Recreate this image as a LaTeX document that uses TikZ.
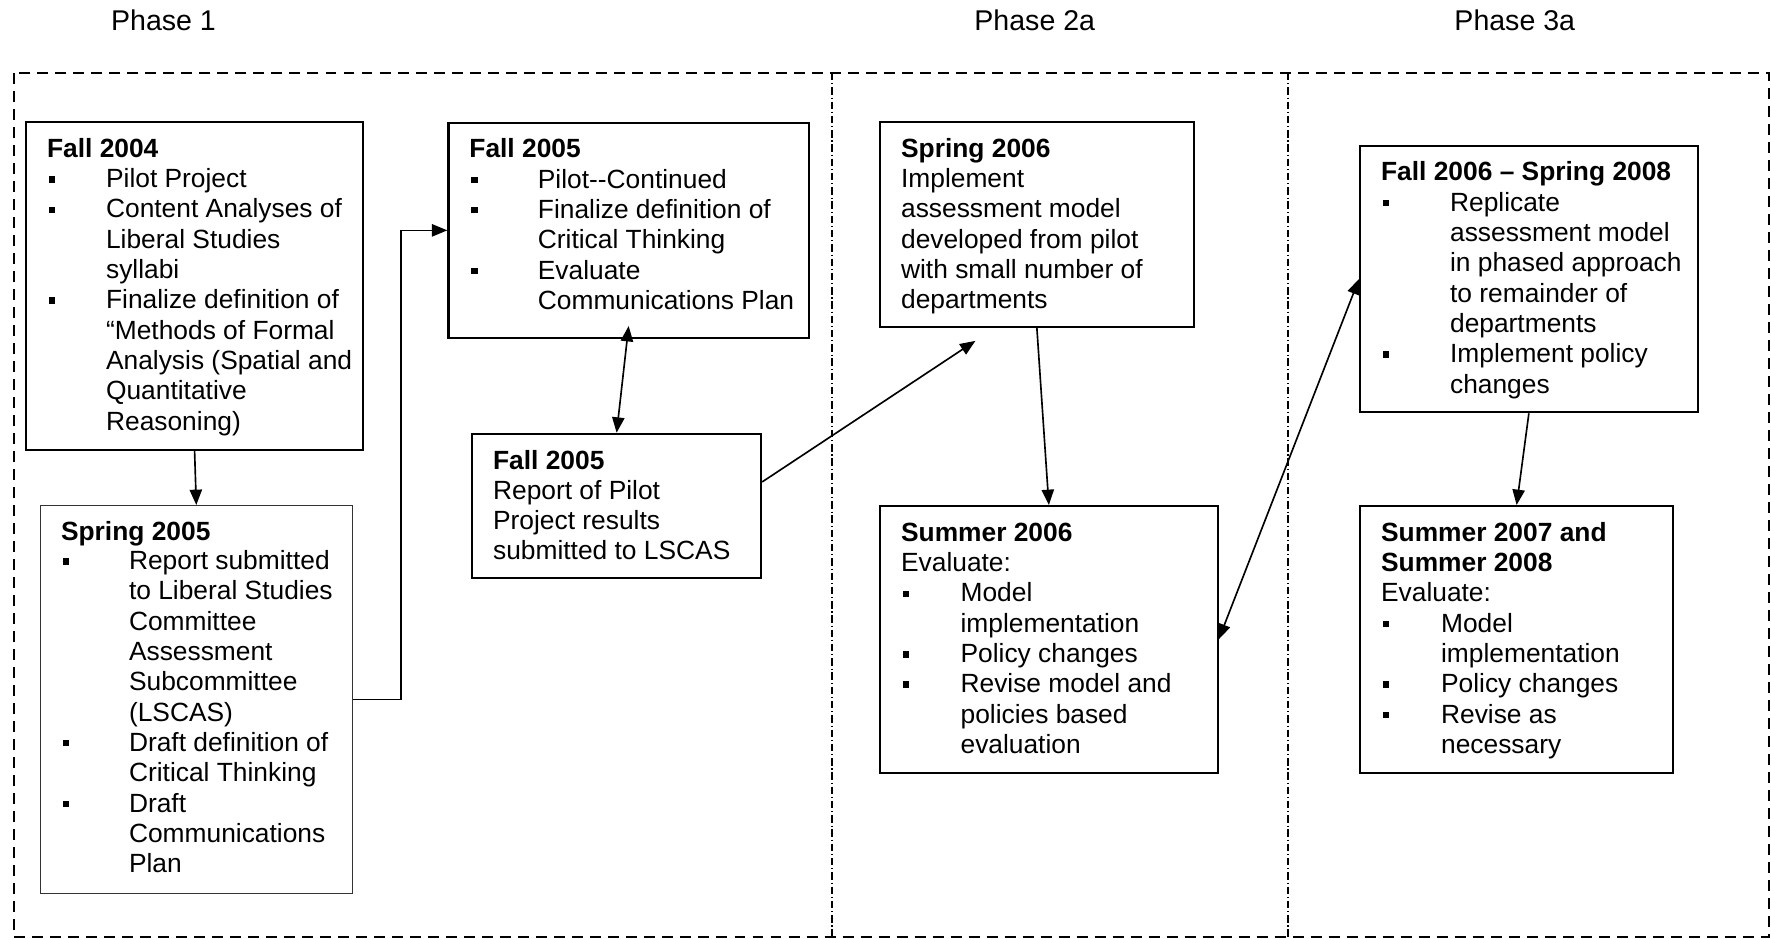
\documentclass[tikz,border=0pt]{standalone}
\usepackage{fontspec}
\setmainfont{Liberation Sans}
\usepackage{tikz}
\usetikzlibrary{arrows.meta}

\newlength{\pxu}\setlength{\pxu}{0.016cm}
\newcommand{\bul}{\rule[2.3pt]{2.9pt}{2.9pt}}
\newcommand{\itm}[1]{\makebox[#1\pxu][l]{\hspace{2\pxu}\bul}}
\newcommand{\cnt}[1]{\hspace*{#1\pxu}}
\newcommand{\boxtext}[3]{\parbox[c][#2\pxu][t]{#1\pxu}{\raggedright
  \setlength{\leftskip}{21\pxu}\fontsize{12}{13.8}\selectfont
  \vspace*{6.4pt}\strut #3}}

\begin{document}
\begin{tikzpicture}[x=0.016cm, y=-0.016cm,
    box/.style={draw, line width=1pt, anchor=north west, inner sep=0pt},
    lbl/.style={anchor=base west, inner sep=0pt, font=\fontsize{13}{15}\selectfont},
    arr/.style={-{Triangle[length=7pt,width=5.6pt]}, line width=0.75pt},
    arrs/.style={{Triangle[length=7pt,width=5.6pt]}-{Triangle[length=7pt,width=5.6pt]}, line width=0.75pt},
    frame/.style={line width=1.2pt, dash pattern=on 5pt off 3.2pt},
    divide/.style={line width=0.6pt, dash pattern=on 3.4pt off 1.3pt on 0.5pt off 1.3pt}]
  \useasboundingbox (0,0) rectangle (1771,939);

  \node[lbl] (ph1) at (110.7,30) {Phase 1};
  \node[lbl] (ph2a) at (974,30) {Phase 2a};
  \node[lbl] (ph3a) at (1454,30) {Phase 3a};

  \draw[frame] (14,73) rectangle (1769,937);
  \draw[divide] (832,73) -- (832,937);
  \draw[divide] (1288,73) -- (1288,937);

  \node[box] (f04) at (25,121) {\boxtext{337}{328}{\textbf{Fall 2004}\\
    \itm{59}Pilot Project\\
    \itm{59}Content Analyses of\\
    \cnt{59}Liberal Studies\\
    \cnt{59}syllabi\\
    \itm{59}Finalize definition of\\
    \cnt{59}“Methods of Formal\\
    \cnt{59}Analysis (Spatial and\\
    \cnt{59}Quantitative\\
    \cnt{59}Reasoning)}};
  \node[box, line width=0.5pt, draw=black!80] (s05) at (39.5,505) {\boxtext{312.5}{388}{\vspace*{-0.7pt}\textbf{Spring 2005}\\
    \itm{68}Report submitted\\
    \cnt{68}to Liberal Studies\\
    \cnt{68}Committee\\
    \cnt{68}Assessment\\
    \cnt{68}Subcommittee\\
    \cnt{68}(LSCAS)\\
    \itm{68}Draft definition of\\
    \cnt{68}Critical Thinking\\
    \itm{68}Draft\\
    \cnt{68}Communications\\
    \cnt{68}Plan}};
  \node[box] (f05) at (447.3,121.5) {\boxtext{360.5}{215.5}{\textbf{Fall 2005}\\
    \itm{68.5}Pilot{-}{-}Continued\\
    \itm{68.5}Finalize definition of\\
    \cnt{68.5}Critical Thinking\\
    \itm{68.5}Evaluate\\
    \cnt{68.5}Communications Plan}};
  \node[box] (rep) at (471,432.7) {\boxtext{289}{144.5}{\textbf{Fall 2005}\\
    Report of Pilot\\
    Project results\\
    submitted to LSCAS}};
  \node[box] (s06) at (879,121) {\boxtext{313.5}{204.5}{\textbf{Spring 2006}\\
    Implement\\
    assessment model\\
    developed from pilot\\
    with small number of\\
    departments}};
  \node[box] (su06) at (879,505) {\boxtext{337.5}{266.5}{\textbf{Summer 2006}\\
    Evaluate:\\
    \itm{59.5}Model\\
    \cnt{59.5}implementation\\
    \itm{59.5}Policy changes\\
    \itm{59.5}Revise model and\\
    \cnt{59.5}policies based\\
    \cnt{59.5}evaluation}};
  \node[box] (f06) at (1359,144.6) {\boxtext{337.5}{266.5}{\textbf{Fall 2006 – Spring 2008}\\
    \itm{69}Replicate\\
    \cnt{69}assessment model\\
    \cnt{69}in phased approach\\
    \cnt{69}to remainder of\\
    \cnt{69}departments\\
    \itm{69}Implement policy\\
    \cnt{69}changes}};
  \node[box] (su07) at (1359,505) {\boxtext{313}{266.5}{\textbf{Summer 2007 and}\\
    \textbf{Summer 2008}\\
    Evaluate:\\
    \itm{60}Model\\
    \cnt{60}implementation\\
    \itm{60}Policy changes\\
    \itm{60}Revise as\\
    \cnt{60}necessary}};

  \coordinate (f05tip) at ([yshift=6pt]f05.south);
  \coordinate (s06in) at ([xshift=-28pt,yshift=-6pt]s06.south);

  \draw[arr] (f04.south) -- (s05.north);
  \draw[arr] (s05.east) -- ++(48,0) |- (f05.west);
  \draw[arrs] (f05tip) -- (rep.north);
  \draw[arr] ([yshift=11pt]rep.east) -- (s06in);
  \draw[arr] (s06.south) -- (su06.north);
  \draw[arrs] (su06.east) -- (f06.west);
  \draw[arr] (f06.south) -- (su07.north);
\end{tikzpicture}
\end{document}
